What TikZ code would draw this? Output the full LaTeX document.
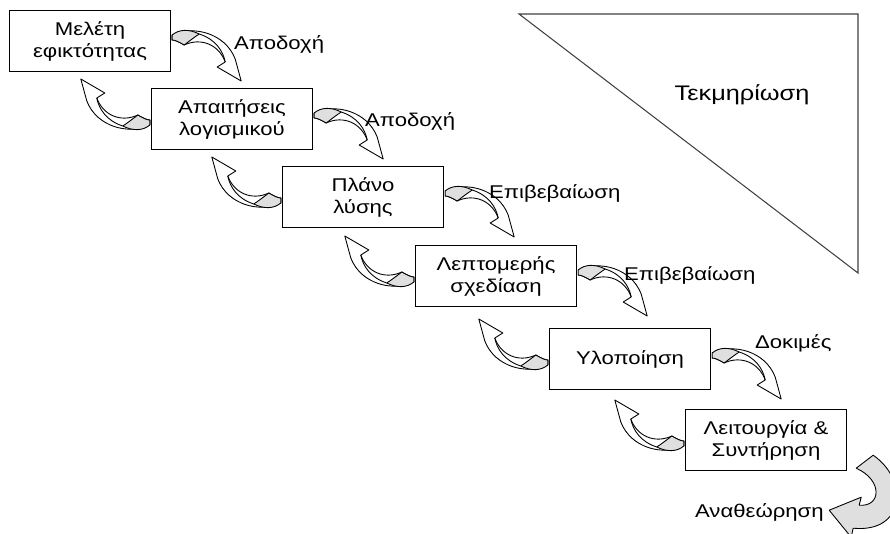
\documentclass[tikz,border=0pt]{standalone}
\usepackage{fontspec}
\setmainfont{Liberation Sans}[FakeStretch=1.2]
\usetikzlibrary{calc}

\begin{document}
\begin{tikzpicture}[
    x=0.02cm, y=-0.02cm,
    phase/.style={
      draw,
      line width=0.8pt,
      align=center,
      minimum width=3.22cm,
      minimum height=1.22cm,
      font=\fontsize{10.5}{12.5}\selectfont
    },
    note/.style={
      anchor=west,
      inner sep=1pt,
      font=\fontsize{10.5}{12.5}\selectfont
    },
    band/.style={draw, line width=0.5pt, line join=round},
    fwdarrow/.pic={
      \draw[band, fill=white] (1,-2) .. controls (22,-12) and (54,-4) .. (64,22) -- (70,44) -- (46,30) -- (54,25)
        .. controls (48,8) and (30,0) .. (13,8) .. controls (8,5) and (4,3) .. (1,3) -- cycle;
      \draw[band] (28,-3) .. controls (44,2) and (52,14) .. (54,25);
      \draw[band, fill=gray!25] (1,-2) .. controls (8,-8) and (18,-8) .. (28,-3)
        .. controls (22,1) and (17,5) .. (13,8) .. controls (8,5) and (4,3) .. (1,3) -- cycle;
    }
  ]
    \useasboundingbox (0,0) rectangle (890,534);

    \node[phase] (b1) at (90,41) {Μελέτη\\εφικτότητας};
    \node[phase] (b2) at (232,119) {Απαιτήσεις\\λογισμικού};
    \node[phase] (b3) at (363,197) {Πλάνο\\λύσης};
    \node[phase] (b4) at (496,276) {Λεπτομερής\\σχεδίαση};
    \node[phase] (b5) at (630,359) {Υλοποίηση};
    \node[phase] (b6) at (766,440) {Λειτουργία \&\\Συντήρηση};

    % documentation triangle
    \draw[black!75, line width=0.6pt] (519,14) -- (858,14) -- (858,273) -- cycle;
    \node[font=\fontsize{12}{14}\selectfont] (doc) at (742,95) {Τεκμηρίωση};

    % forward and backward steps
    \foreach \i/\j in {b1/b2, b2/b3, b3/b4, b4/b5, b5/b6} {
      \pic at ($(\i.east)+(0,-4)$) {fwdarrow};
      \pic[rotate=180] at ($(\j.west)+(0,4)$) {fwdarrow};
    }

    % revision loop
    \begin{scope}[shift={(b6.south east)}]
      \draw[band, fill=gray!25] (26,-16) .. controls (62,9) and (58,62) .. (6,57) -- (4,66) -- (-18,39) -- (14,26) -- (12,34)
        .. controls (34,36) and (36,9) .. (9,-3) -- cycle;
    \end{scope}

    \node[note] (a1) at (232,44) {Αποδοχή};
    \node[note] (a2) at (363,121) {Αποδοχή};
    \node[note] (a3) at (487,193) {Επιβεβαίωση};
    \node[note] (a4) at (622,275) {Επιβεβαίωση};
    \node[note] (a5) at (753,343) {Δοκιμές};
    \node[note] (a6) at (693,512) {Αναθεώρηση};
\end{tikzpicture}
\end{document}
